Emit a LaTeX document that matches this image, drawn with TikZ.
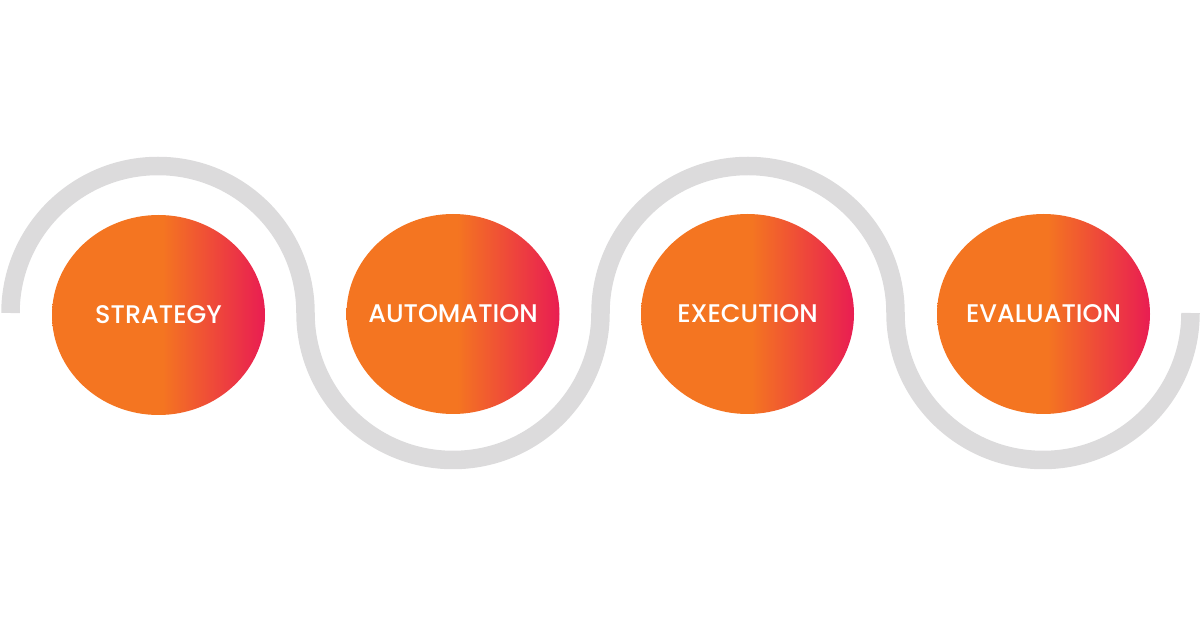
\documentclass[tikz,border=0pt]{standalone}
\usepackage{fontspec}
\newfontfamily\stagefont{Poppins Medium}
\usetikzlibrary{shapes.geometric}

\definecolor{stageorange}{HTML}{F47521}
\definecolor{stagepink}{HTML}{E91D52}
\definecolor{wavegray}{HTML}{DCDBDC}
\pgfdeclarehorizontalshading{stagegrad}{100bp}{color(0bp)=(stageorange); color(51bp)=(stageorange); color(75bp)=(stagepink); color(100bp)=(stagepink)}

\begin{document}
\begin{tikzpicture}[
                x=1pt, y=1pt,
                stage/.style={
                  ellipse,
                  shading=stagegrad,
                  minimum width=213pt,
                  minimum height=200pt,
                  inner sep=0pt,
                  label={[stagetext]center:#1},
                },
                stagetext/.style={
                  inner sep=0pt,
                  text=white,
                  font=\stagefont\fontsize{25.5}{25.5}\selectfont,
                },
                wave/.style={
                  draw=wavegray,
                  line width=18.5pt,
                },
              ]
              \useasboundingbox (0,0) rectangle (1200,627);
              \coordinate (w0) at (10.5,314) ;
              \draw[wave] (w0) arc[start angle=180, end angle=0, x radius=147.5, y radius=147]
                               arc[start angle=180, end angle=360, x radius=147.5, y radius=147]
                               arc[start angle=180, end angle=0, x radius=147.5, y radius=147]
                               arc[start angle=180, end angle=360, x radius=147.5, y radius=147] ;
              \node[stage=STRATEGY] at (158.5,312) (strategy) {} ;
              \node[stage=AUTOMATION] at (453,313) (automation) {} ;
              \node[stage=EXECUTION] at (747.5,313) (execution) {} ;
              \node[stage=EVALUATION] at (1043.5,313) (evaluation) {} ;
              \end{tikzpicture}
\end{document}
